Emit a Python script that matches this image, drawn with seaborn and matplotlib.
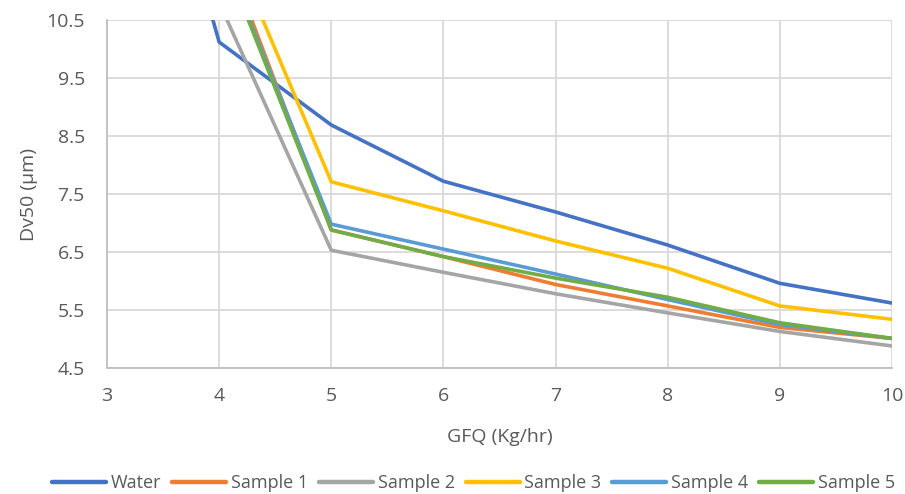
import matplotlib
matplotlib.use("Agg")
import matplotlib.pyplot as plt
import seaborn as sns
import pandas as pd
from matplotlib.lines import Line2D

gfq = [3, 4, 5, 6, 7, 8, 9, 10]
water = [17.0, 10.12, 8.69, 7.72, 7.19, 6.62, 5.96, 5.62]
sample1 = [17.5, 11.98, 6.88, 6.42, 5.94, 5.57, 5.20, 5.01]
sample2 = [16.5, 10.80, 6.53, 6.15, 5.78, 5.45, 5.13, 4.88]
sample3 = [18.0, 12.28, 7.71, 7.21, 6.69, 6.22, 5.57, 5.34]
sample4 = [17.5, 11.80, 6.98, 6.55, 6.12, 5.68, 5.25, 5.01]
sample5 = [17.5, 11.77, 6.88, 6.42, 6.05, 5.72, 5.28, 5.01]

series_names = ["Water", "Sample 1", "Sample 2", "Sample 3", "Sample 4", "Sample 5"]
series_values = [water, sample1, sample2, sample3, sample4, sample5]
colors = ["#4472C4", "#ED7D31", "#A5A5A5", "#FFC000", "#5B9BD5", "#70AD47"]
y_ticks = [4.5, 5.5, 6.5, 7.5, 8.5, 9.5, 10.5]

rows = []
for name, vals in zip(series_names, series_values):
    for x, v in zip(gfq, vals):
        rows.append({"GFQ": x, "Dv50": v, "Series": name})
df = pd.DataFrame(rows)

sns.set_style("white")
plt.rcParams["font.family"] = ["Open Sans", "DejaVu Sans"]

fig = plt.figure(figsize=(9.05, 4.94), dpi=100)
ax = fig.add_axes([107/905, 1-368/494, (892-107)/905, (368-20)/494])

sns.lineplot(data=df, x="GFQ", y="Dv50", hue="Series", hue_order=series_names,
             palette=dict(zip(series_names, colors)), linewidth=2.6, ax=ax,
             legend=False, zorder=3)

ax.set_xlim(3, 10)
ax.set_ylim(4.5, 10.5)
ax.set_xticks(gfq)
ax.set_yticks(y_ticks)
ax.set_yticklabels([f"{t:.1f}" for t in y_ticks])
ax.grid(True, color="#D9D9D9", linewidth=1.3)
ax.set_axisbelow(True)
for s in ["top", "right"]:
    ax.spines[s].set_visible(False)
for s in ["left", "bottom"]:
    ax.spines[s].set_color("#BFBFBF")
    ax.spines[s].set_linewidth(1.3)
ax.tick_params(axis="both", length=0, labelsize=14, colors="#595959")
ax.tick_params(axis="x", pad=14)
ax.tick_params(axis="y", pad=16)
ax.set_xlabel("GFQ (Kg/hr)", fontsize=14, color="#595959", labelpad=16)
ax.set_ylabel("Dv50 (μm)", fontsize=14, color="#595959", labelpad=6)

handles = [Line2D([0], [0], color=c, linewidth=3.2) for c in colors]
fig.legend(handles, series_names, loc="center", bbox_to_anchor=(473.5/905, 1-483/494),
           ncol=6, frameon=False, fontsize=13, handlelength=3.0, handletextpad=0.25,
           columnspacing=0.6, labelcolor="#595959")

fig.savefig("out.png", dpi=100)
